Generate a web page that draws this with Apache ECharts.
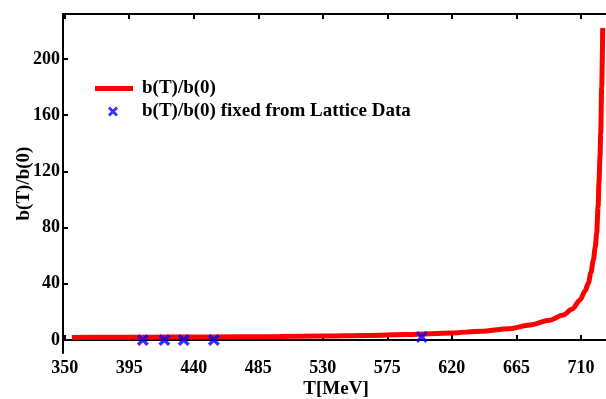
<!DOCTYPE html>
<html>
<head>
<meta charset="utf-8">
<script src="https://cdn.jsdelivr.net/npm/echarts@6/dist/echarts.min.js"></script>
<style>
  html, body { margin: 0; padding: 0; background: #fff; }
  #chart { width: 606px; height: 399px; }
</style>
</head>
<body>
<div id="chart"></div>
<script>
// curve b(T)/b(0)
const curveT = [355, 380, 410, 440, 470, 500, 530, 560, 590, 620, 640, 660, 674.5, 688, 697.7, 704, 709.4, 713, 715.2, 717, 718.7, 720, 721, 722, 722.6, 723.3, 723.8, 724.5, 725.2];
const curveB = [1.8, 1.9, 2.0, 2.1, 2.3, 2.5, 2.8, 3.2, 3.9, 5.0, 6.2, 8.0, 10.7, 14, 17.8, 22, 28.5, 35, 40.5, 48, 57, 66, 76, 95, 112, 130, 147, 180, 222];

// lattice points
const latticeT = [404.5, 419.5, 433, 454, 599];
const latticeB = [0, 0, 0, 0, 2.2];

const xTicks = [350, 395, 440, 485, 530, 575, 620, 665, 710];
const yTicks = [0, 40, 80, 120, 160, 200];

const lineName = 'b(T)/b(0)';
const pointName = 'b(T)/b(0) fixed from Lattice Data';

const font = 'Liberation Serif';
const crossPath = 'path://M0,2L2,0L5,3L8,0L10,2L7,5L10,8L8,10L5,7L2,10L0,8L3,5Z';

const chart = echarts.init(document.getElementById('chart'));

const xBase = {
  type: 'value',
  min: 348.8,
  max: 729.6,
  axisLine: { lineStyle: { color: '#000', width: 2 } },
  axisTick: { inside: true, length: 5, customValues: xTicks, lineStyle: { color: '#000', width: 2 } },
  splitLine: { show: false },
};

chart.setOption({
  animation: false,
  grid: { left: 63, top: 14, right: -3, bottom: 46, outerBoundsMode: 'none', containLabel: false },
  legend: [
    {
      data: [{ name: lineName, icon: 'rect' }],
      left: 95, top: 79, padding: 0,
      itemWidth: 38, itemHeight: 5,
      textStyle: { fontFamily: font, fontWeight: 'bold', fontSize: 19, color: '#000', padding: [0, 0, 0, 4] },
    },
    {
      data: [{ name: pointName, icon: crossPath }],
      left: 108, top: 102, padding: 0,
      itemWidth: 10, itemHeight: 10,
      textStyle: { fontFamily: font, fontWeight: 'bold', fontSize: 19, color: '#000', padding: [0, 0, 0, 19] },
    },
  ],
  xAxis: [
    Object.assign({}, xBase, {
      position: 'bottom',
      name: 'T[MeV]',
      nameLocation: 'middle',
      nameGap: 27,
      nameMoveOverlap: false,
      nameTextStyle: { fontFamily: font, fontWeight: 'bold', fontSize: 19, color: '#000' },
      axisLabel: { customValues: xTicks, margin: 6, fontFamily: font, fontWeight: 'bold', fontSize: 18, color: '#000' },
    }),
    Object.assign({}, xBase, {
      position: 'top',
      axisLabel: { show: false },
    }),
  ],
  yAxis: {
    type: 'value',
    min: -9.25,
    max: 232,
    name: 'b(T)/b(0)',
    nameLocation: 'middle',
    nameGap: 29,
    nameMoveOverlap: false,
    nameTextStyle: { fontFamily: font, fontWeight: 'bold', fontSize: 19, color: '#000' },
    axisLine: { show: true, lineStyle: { color: '#000', width: 2 } },
    axisTick: { show: true, inside: true, length: 5, customValues: yTicks, lineStyle: { color: '#000', width: 2 } },
    axisLabel: { customValues: yTicks, margin: 3, fontFamily: font, fontWeight: 'bold', fontSize: 18, color: '#000' },
    splitLine: { show: false },
  },
  series: [
    {
      name: lineName,
      type: 'line',
      data: curveT.map((t, i) => [t, curveB[i]]),
      showSymbol: false,
      symbol: 'none',
      smooth: 0.3,
      smoothMonotone: 'x',
      itemStyle: { color: '#ff0000' },
      lineStyle: { color: '#ff0000', width: 5 },
      z: 2,
    },
    {
      name: pointName,
      type: 'scatter',
      data: latticeT.map((t, i) => [t, latticeB[i]]),
      symbol: crossPath,
      symbolSize: 12,
      itemStyle: { color: '#0000ff' },
      z: 3,
    },
  ],
});
</script>
</body>
</html>
